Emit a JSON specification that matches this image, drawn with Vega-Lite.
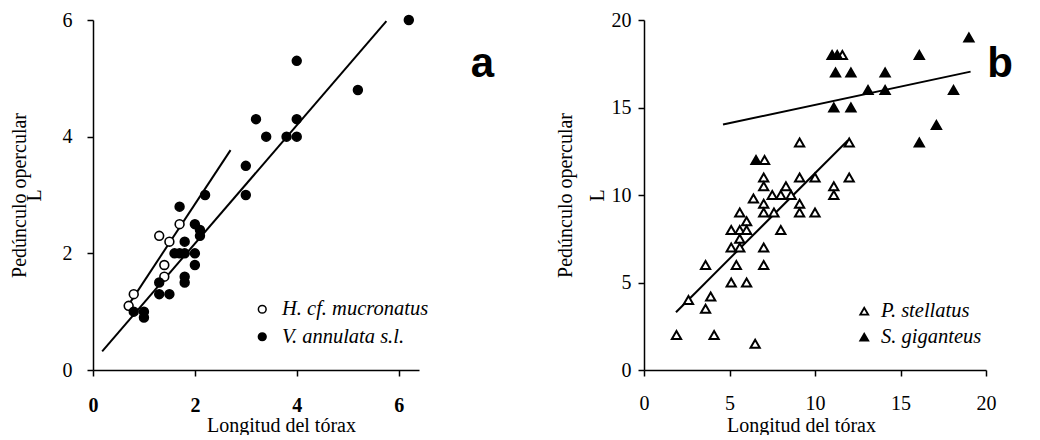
{
  "$schema": "https://vega.github.io/schema/vega-lite/v6.json",
  "background": "white",
  "padding": {"left": 9, "top": 10, "right": 5, "bottom": 0},
  "datasets": {
    "ptsA": [
      {"x": 0.8, "y": 1.3, "sp": "H. cf. mucronatus"},
      {"x": 0.7, "y": 1.1, "sp": "H. cf. mucronatus"},
      {"x": 1.3, "y": 2.3, "sp": "H. cf. mucronatus"},
      {"x": 1.5, "y": 2.2, "sp": "H. cf. mucronatus"},
      {"x": 1.7, "y": 2.5, "sp": "H. cf. mucronatus"},
      {"x": 1.4, "y": 1.8, "sp": "H. cf. mucronatus"},
      {"x": 1.4, "y": 1.6, "sp": "H. cf. mucronatus"},
      {"x": 6.2, "y": 6.0, "sp": "V. annulata s.l."},
      {"x": 4.0, "y": 5.3, "sp": "V. annulata s.l."},
      {"x": 5.2, "y": 4.8, "sp": "V. annulata s.l."},
      {"x": 3.2, "y": 4.3, "sp": "V. annulata s.l."},
      {"x": 4.0, "y": 4.3, "sp": "V. annulata s.l."},
      {"x": 3.4, "y": 4.0, "sp": "V. annulata s.l."},
      {"x": 3.8, "y": 4.0, "sp": "V. annulata s.l."},
      {"x": 4.0, "y": 4.0, "sp": "V. annulata s.l."},
      {"x": 3.0, "y": 3.5, "sp": "V. annulata s.l."},
      {"x": 2.2, "y": 3.0, "sp": "V. annulata s.l."},
      {"x": 3.0, "y": 3.0, "sp": "V. annulata s.l."},
      {"x": 1.7, "y": 2.8, "sp": "V. annulata s.l."},
      {"x": 2.0, "y": 2.5, "sp": "V. annulata s.l."},
      {"x": 2.1, "y": 2.4, "sp": "V. annulata s.l."},
      {"x": 2.1, "y": 2.3, "sp": "V. annulata s.l."},
      {"x": 1.8, "y": 2.2, "sp": "V. annulata s.l."},
      {"x": 1.6, "y": 2.0, "sp": "V. annulata s.l."},
      {"x": 1.7, "y": 2.0, "sp": "V. annulata s.l."},
      {"x": 1.8, "y": 2.0, "sp": "V. annulata s.l."},
      {"x": 2.0, "y": 2.0, "sp": "V. annulata s.l."},
      {"x": 2.0, "y": 1.8, "sp": "V. annulata s.l."},
      {"x": 1.8, "y": 1.6, "sp": "V. annulata s.l."},
      {"x": 1.8, "y": 1.5, "sp": "V. annulata s.l."},
      {"x": 1.3, "y": 1.5, "sp": "V. annulata s.l."},
      {"x": 1.3, "y": 1.3, "sp": "V. annulata s.l."},
      {"x": 1.5, "y": 1.3, "sp": "V. annulata s.l."},
      {"x": 0.8, "y": 1.0, "sp": "V. annulata s.l."},
      {"x": 1.0, "y": 1.0, "sp": "V. annulata s.l."},
      {"x": 1.0, "y": 0.9, "sp": "V. annulata s.l."}
    ],
    "linesA": [
      {"line": "H", "x": 0.64, "y": 1.04},
      {"line": "H", "x": 2.7, "y": 3.77},
      {"line": "V", "x": 0.18, "y": 0.32},
      {"line": "V", "x": 5.76, "y": 5.98}
    ],
    "ptsB": [
      {"x": 9.1, "y": 13, "sp": "P. stellatus"},
      {"x": 12, "y": 13, "sp": "P. stellatus"},
      {"x": 12, "y": 11, "sp": "P. stellatus"},
      {"x": 7, "y": 11, "sp": "P. stellatus"},
      {"x": 9.1, "y": 11, "sp": "P. stellatus"},
      {"x": 10, "y": 11, "sp": "P. stellatus"},
      {"x": 7, "y": 10.5, "sp": "P. stellatus"},
      {"x": 8.3, "y": 10.5, "sp": "P. stellatus"},
      {"x": 11.1, "y": 10.5, "sp": "P. stellatus"},
      {"x": 7.5, "y": 10, "sp": "P. stellatus"},
      {"x": 8, "y": 10, "sp": "P. stellatus"},
      {"x": 8.6, "y": 10, "sp": "P. stellatus"},
      {"x": 11.1, "y": 10, "sp": "P. stellatus"},
      {"x": 6.4, "y": 9.8, "sp": "P. stellatus"},
      {"x": 7, "y": 9.5, "sp": "P. stellatus"},
      {"x": 9.1, "y": 9.5, "sp": "P. stellatus"},
      {"x": 7, "y": 9, "sp": "P. stellatus"},
      {"x": 7.6, "y": 9, "sp": "P. stellatus"},
      {"x": 9.1, "y": 9, "sp": "P. stellatus"},
      {"x": 10, "y": 9, "sp": "P. stellatus"},
      {"x": 5.6, "y": 9, "sp": "P. stellatus"},
      {"x": 6, "y": 8.5, "sp": "P. stellatus"},
      {"x": 5.1, "y": 8, "sp": "P. stellatus"},
      {"x": 5.6, "y": 8, "sp": "P. stellatus"},
      {"x": 6, "y": 8, "sp": "P. stellatus"},
      {"x": 8, "y": 8, "sp": "P. stellatus"},
      {"x": 5.6, "y": 7.5, "sp": "P. stellatus"},
      {"x": 5.1, "y": 7, "sp": "P. stellatus"},
      {"x": 5.6, "y": 7, "sp": "P. stellatus"},
      {"x": 7, "y": 7, "sp": "P. stellatus"},
      {"x": 3.6, "y": 6, "sp": "P. stellatus"},
      {"x": 5.4, "y": 6, "sp": "P. stellatus"},
      {"x": 7, "y": 6, "sp": "P. stellatus"},
      {"x": 5.1, "y": 5, "sp": "P. stellatus"},
      {"x": 6, "y": 5, "sp": "P. stellatus"},
      {"x": 2.6, "y": 4, "sp": "P. stellatus"},
      {"x": 3.9, "y": 4.2, "sp": "P. stellatus"},
      {"x": 3.6, "y": 3.5, "sp": "P. stellatus"},
      {"x": 1.9, "y": 2, "sp": "P. stellatus"},
      {"x": 4.1, "y": 2, "sp": "P. stellatus"},
      {"x": 6.5, "y": 1.5, "sp": "P. stellatus"},
      {"x": 7.05, "y": 12, "sp": "P. stellatus"},
      {"x": 11.6, "y": 18, "sp": "P. stellatus"},
      {"x": 19, "y": 19, "sp": "S. giganteus"},
      {"x": 16.1, "y": 18, "sp": "S. giganteus"},
      {"x": 11, "y": 18, "sp": "S. giganteus"},
      {"x": 11.3, "y": 18, "sp": "S. giganteus"},
      {"x": 11.2, "y": 17, "sp": "S. giganteus"},
      {"x": 12.1, "y": 17, "sp": "S. giganteus"},
      {"x": 14.1, "y": 17, "sp": "S. giganteus"},
      {"x": 13.1, "y": 16, "sp": "S. giganteus"},
      {"x": 14.1, "y": 16, "sp": "S. giganteus"},
      {"x": 18.1, "y": 16, "sp": "S. giganteus"},
      {"x": 11.1, "y": 15, "sp": "S. giganteus"},
      {"x": 12.1, "y": 15, "sp": "S. giganteus"},
      {"x": 17.1, "y": 14, "sp": "S. giganteus"},
      {"x": 16.1, "y": 13, "sp": "S. giganteus"},
      {"x": 6.55, "y": 12, "sp": "S. giganteus"}
    ],
    "linesB": [
      {"line": "P", "x": 1.87, "y": 3.3},
      {"line": "P", "x": 11.93, "y": 13.13},
      {"line": "S", "x": 4.62, "y": 14.03},
      {"line": "S", "x": 19.1, "y": 17.05}
    ]
  },
  "bounds": "flush",
  "spacing": 225,
  "resolve": {
    "scale": {"x": "independent", "y": "independent", "fill": "independent"},
    "legend": {"fill": "independent"}
  },
  "hconcat": [
    {
      "width": 326,
      "height": 350,
      "title": {"text": "a", "anchor": "end", "frame": "group", "orient": "top", "offset": 0, "baseline": "alphabetic", "dx": 75, "dy": 109, "fontSize": 42, "font": "Liberation Sans", "fontWeight": "bold", "color": "black"},
      "layer": [
        {
          "data": {"name": "linesA"},
          "mark": {"type": "line", "color": "black", "strokeWidth": 2},
          "encoding": {
            "x": {"field": "x", "type": "quantitative", "scale": {"domain": [0, 6.4], "nice": false},
              "axis": {"values": [0, 2, 4, 6], "format": "d", "title": "Longitud del tórax", "labelFontWeight": "bold", "labelPadding": 19, "titlePadding": 0, "titleX": 188}},
            "y": {"field": "y", "type": "quantitative", "scale": {"domain": [0, 6], "nice": false},
              "axis": {"values": [0, 2, 4, 6], "format": "d", "title": ["Pedúnculo opercular", "L"], "labelPadding": 15, "titlePadding": 18, "titleLineHeight": 15}},
            "detail": {"field": "line"}
          }
        },
        {
          "data": {"name": "ptsA"},
          "mark": {"type": "point", "shape": "circle", "filled": true, "size": 78, "stroke": "black", "strokeWidth": 1.6, "opacity": 1},
          "encoding": {
            "x": {"field": "x", "type": "quantitative"},
            "y": {"field": "y", "type": "quantitative"},
            "fill": {"field": "sp", "type": "nominal",
              "scale": {"domain": ["H. cf. mucronatus", "V. annulata s.l."], "range": ["white", "black"]},
              "legend": {"title": null, "orient": "none", "legendX": 159, "legendY": 279, "symbolType": "circle", "symbolSize": 60, "symbolStrokeColor": "black", "symbolStrokeWidth": 1.5, "labelOffset": 9.5, "rowPadding": 6.5}}
          }
        }
      ]
    },
    {
      "width": 342,
      "height": 350,
      "title": {"text": "b", "anchor": "end", "frame": "group", "orient": "top", "offset": 0, "baseline": "alphabetic", "dx": 27, "dy": 109, "fontSize": 42, "font": "Liberation Sans", "fontWeight": "bold", "color": "black"},
      "layer": [
        {
          "data": {"name": "linesB"},
          "mark": {"type": "line", "color": "black", "strokeWidth": 2},
          "encoding": {
            "x": {"field": "x", "type": "quantitative", "scale": {"domain": [0, 20], "nice": false},
              "axis": {"values": [0, 5, 10, 15, 20], "title": "Longitud del tórax", "labelPadding": 17, "titlePadding": 2, "titleX": 157}},
            "y": {"field": "y", "type": "quantitative", "scale": {"domain": [0, 20], "nice": false},
              "axis": {"values": [0, 5, 10, 15, 20], "title": ["Pedúnculo opercular", "L"], "labelPadding": 7, "titlePadding": 4, "titleLineHeight": 32}},
            "detail": {"field": "line"}
          }
        },
        {
          "data": {"name": "ptsB"},
          "mark": {"type": "point", "shape": "triangle-up", "filled": true, "size": 85, "stroke": "black", "strokeWidth": 2, "opacity": 1},
          "encoding": {
            "x": {"field": "x", "type": "quantitative"},
            "y": {"field": "y", "type": "quantitative"},
            "fill": {"field": "sp", "type": "nominal",
              "scale": {"domain": ["P. stellatus", "S. giganteus"], "range": ["white", "black"]},
              "legend": {"title": null, "orient": "none", "legendX": 210, "legendY": 281, "symbolType": "triangle-up", "symbolSize": 64, "symbolStrokeColor": "black", "symbolStrokeWidth": 1.8, "labelOffset": 6.5, "rowPadding": 5}}
          }
        }
      ]
    }
  ],
  "config": {
    "view": {"stroke": null},
    "axis": {
      "grid": false,
      "domainColor": "black",
      "domainWidth": 1.5,
      "tickColor": "black",
      "tickWidth": 1.5,
      "tickSize": 6,
      "labelColor": "black",
      "titleColor": "black",
      "labelFont": "Liberation Serif",
      "titleFont": "Liberation Serif",
      "labelFontSize": 20,
      "titleFontSize": 20,
      "titleFontWeight": "normal",
      "labelFlush": false,
      "labelOverlap": false
    },
    "legend": {
      "labelFont": "Liberation Serif",
      "labelFontStyle": "italic",
      "labelFontSize": 20.5,
      "labelColor": "black"
    }
  }
}
